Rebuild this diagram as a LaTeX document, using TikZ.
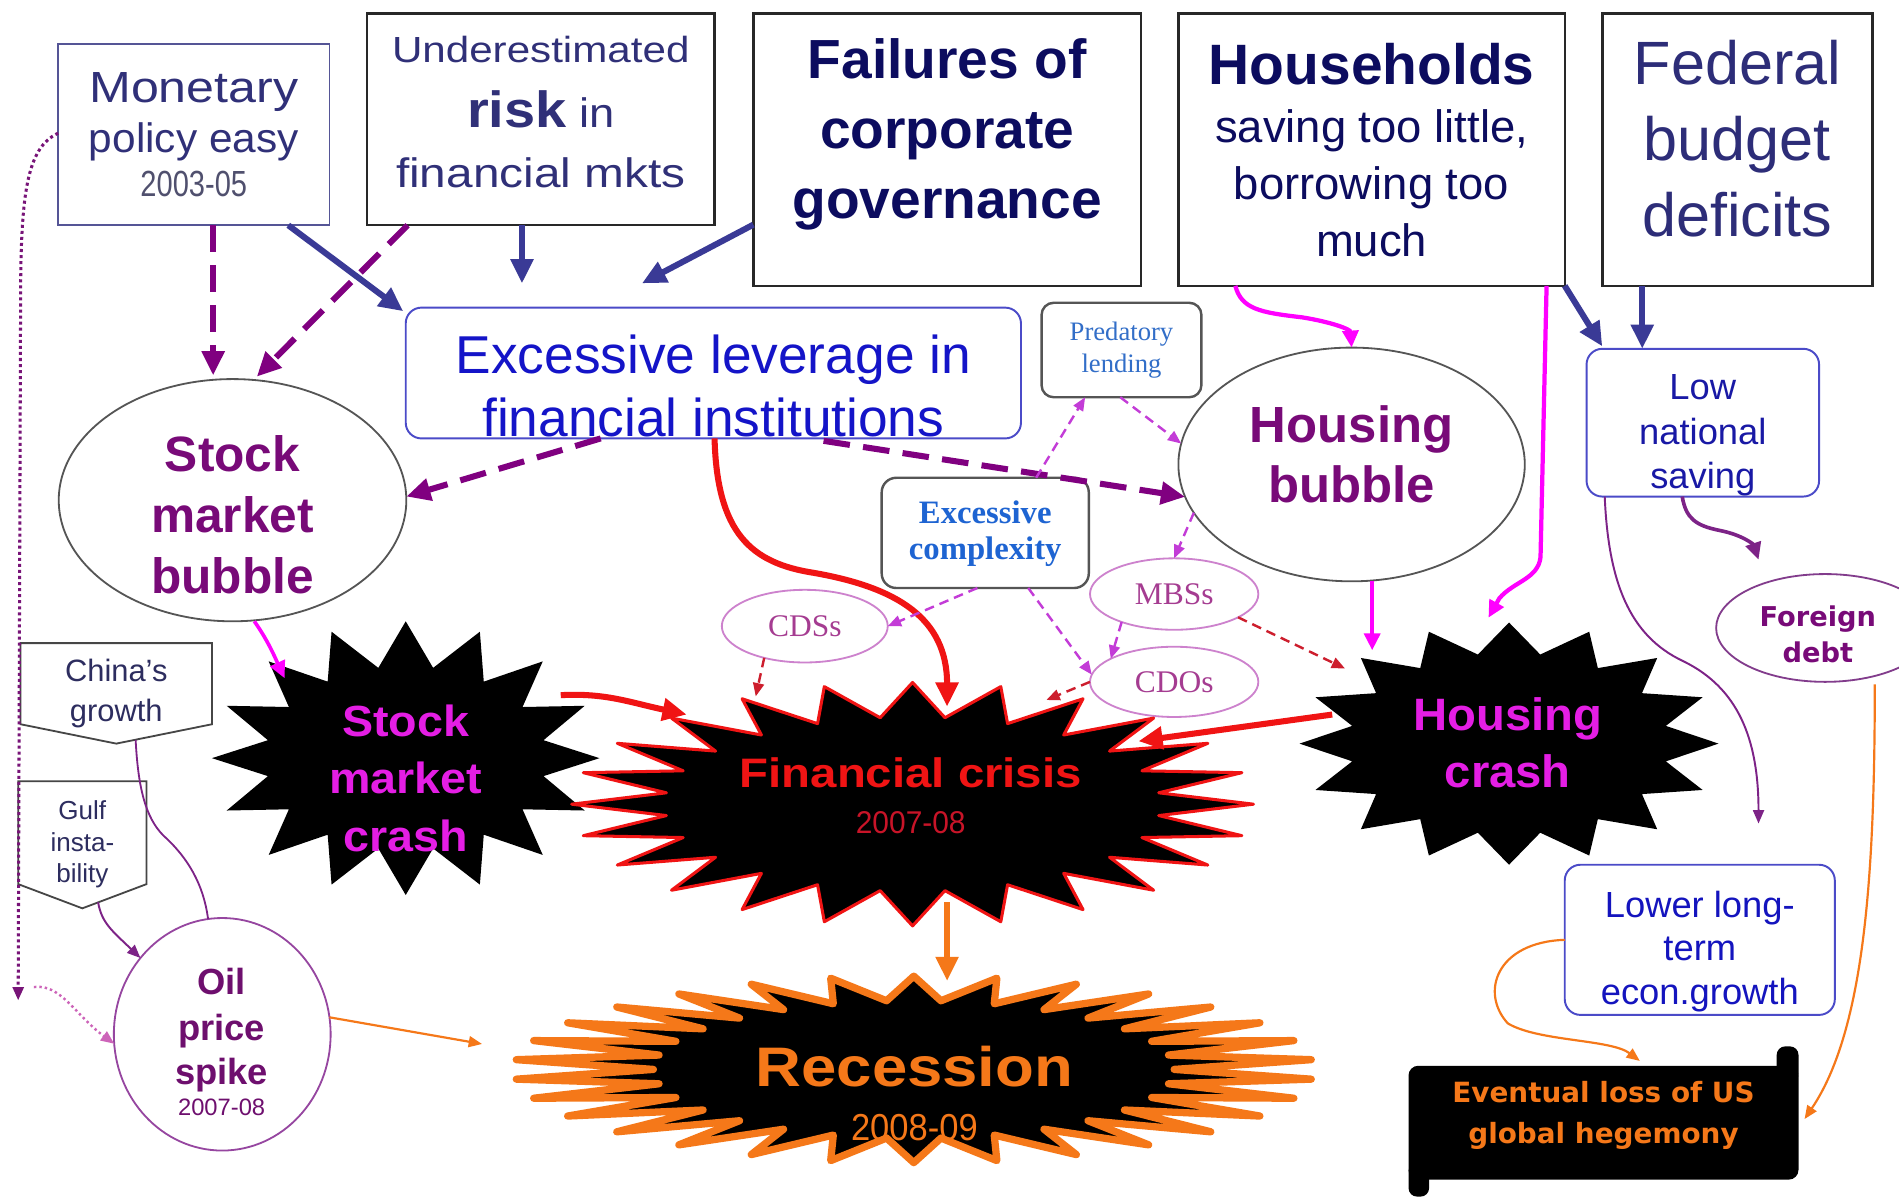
\documentclass[tikz,border=0pt]{standalone}
\usepackage{fontspec}
\setmainfont{Liberation Sans}
\newfontfamily\dejavu{DejaVu Sans}
\newfontfamily\tnr{Liberation Serif}
\usepackage{graphicx}
\usetikzlibrary{arrows.meta,shapes.geometric}

\definecolor{monT}{RGB}{48,48,120}
\definecolor{yearT}{RGB}{80,80,110}
\definecolor{darkT}{RGB}{12,12,95}
\definecolor{fedT}{RGB}{45,45,120}
\definecolor{blueT}{RGB}{20,20,200}
\definecolor{predT}{RGB}{50,110,200}
\definecolor{cplxT}{RGB}{30,100,210}
\definecolor{bubT}{RGB}{120,10,120}
\definecolor{lnsT}{RGB}{25,25,165}
\definecolor{crashT}{RGB}{228,30,228}
\definecolor{redA}{RGB}{240,20,20}
\definecolor{yrRed}{RGB}{200,20,40}
\definecolor{orA}{RGB}{245,120,25}
\definecolor{oilT}{RGB}{110,15,110}
\definecolor{llgT}{RGB}{20,20,190}
\definecolor{chinaT}{RGB}{45,45,95}
\definecolor{chinaB}{RGB}{70,70,70}
\definecolor{boxA}{RGB}{85,85,150}
\definecolor{boxK}{RGB}{40,40,40}
\definecolor{blueB}{RGB}{75,75,200}
\definecolor{grayB}{RGB}{85,85,85}
\definecolor{ellGray}{RGB}{85,85,85}
\definecolor{oilB}{RGB}{150,70,160}
\definecolor{fdB}{RGB}{130,60,140}
\definecolor{ellB}{RGB}{205,130,205}
\definecolor{ellT}{RGB}{165,60,145}
\definecolor{arrN}{RGB}{58,58,150}
\definecolor{purp}{RGB}{128,0,128}
\definecolor{mag}{RGB}{255,0,255}
\definecolor{viol}{RGB}{195,60,215}
\definecolor{redD}{RGB}{205,30,45}
\definecolor{plum}{RGB}{125,35,135}
\definecolor{dotP}{RGB}{120,20,120}
\definecolor{dotPink}{RGB}{205,100,185}

\newcommand\hs[2]{\scalebox{#1}[1]{#2}}
% starburst: center node, outer rx, outer ry, inner rx, inner ry, n points, 2n-1, style
\newcommand\burst[8]{%
  \path[#8] (#1.center) +(0,-#3)
   \foreach \k [evaluate=\k as \ang using {90+\k*180/#6},
                evaluate=\k as \rxx using {#2+(#4-#2)*mod(\k,2)},
                evaluate=\k as \ryy using {#3+(#5-#3)*mod(\k,2)}] in {1,...,#7}
   { -- +({\rxx*cos(\ang)},{-\ryy*sin(\ang)}) } -- cycle;}

\tikzset{
  tx/.style={inner sep=0pt, outer sep=0pt, align=center},
  sqbox/.style={draw=#1, line width=2pt, fill=white, inner sep=0pt, outer sep=0pt},
  rbox/.style={draw=#1, line width=1.6pt, fill=white, rounded corners=13pt, inner sep=0pt, outer sep=0pt},
  ell/.style={ellipse, draw=#1, line width=1.5pt, fill=white, inner sep=0pt, outer sep=0pt},
  ghost/.style={ellipse, inner sep=0pt, outer sep=0pt},
  bigtip/.style={-{Triangle[length=20pt,width=18pt]}},
  midtip/.style={-{Triangle[length=14pt,width=13pt]}},
  smalltip/.style={-{Triangle[length=11pt,width=9pt]}},
  navyarr/.style={draw=arrN, line width=5pt, bigtip},
  pdash/.style={draw=purp, line width=5pt, dash pattern=on 22pt off 11pt, bigtip},
  redarr/.style={draw=redA, line width=5pt, bigtip},
  orarr/.style={draw=orA, line width=5.5pt, bigtip},
  magarr/.style={draw=mag, line width=3.5pt, midtip},
  vdash/.style={draw=viol, line width=2pt, dash pattern=on 8pt off 5pt, smalltip},
  rdash/.style={draw=redD, line width=2pt, dash pattern=on 8pt off 5pt, smalltip},
  plumarr/.style={draw=plum, line width=1.6pt, smalltip},
  orthin/.style={draw=orA, line width=1.8pt, smalltip},
}

\begin{document}
\begin{tikzpicture}[x=1pt,y=-1pt]
\useasboundingbox (0,0) rectangle (1568,988);
\fill[white] (0,0) rectangle (1568,988);

% ---------- boxes ----------
\node[sqbox=boxA, line width=1.5pt, minimum width=224pt, minimum height=150pt] (mon) at (160,111) {};
\node[sqbox=boxK, minimum width=287pt, minimum height=175pt] (und) at (446.5,98.5) {};
\node[sqbox=boxK, minimum width=320pt, minimum height=225pt] (fail) at (782,123.5) {};
\node[sqbox=boxK, minimum width=319pt, minimum height=225pt] (hh) at (1132.5,123.5) {};
\node[sqbox=boxK, minimum width=223pt, minimum height=225pt] (fed) at (1434.5,123.5) {};
\node[rbox=blueB, minimum width=508pt, minimum height=108pt] (lev) at (589,308) {};
\node[rbox=grayB, line width=2pt, rounded corners=10pt, minimum width=132pt, minimum height=78pt] (pred) at (926,289) {};
\node[rbox=grayB, line width=2pt, rounded corners=12pt, minimum width=171pt, minimum height=91pt] (cplx) at (813.5,440) {};
\node[rbox=blueB, minimum width=192pt, minimum height=122pt] (lns) at (1406,349) {};
\node[rbox=blueB, minimum width=223pt, minimum height=124pt] (llg) at (1403.5,776) {};

% ---------- ellipses ----------
\node[ell=ellGray, minimum width=287pt, minimum height=200pt] (sbub) at (192,413) {};
\node[ell=ellGray, minimum width=286pt, minimum height=193pt] (hbub) at (1116,383.5) {};
\node[ell=oilB, minimum width=179pt, minimum height=192pt] (oil) at (183.5,854) {};
\node[ell=fdB, minimum width=180pt, minimum height=89pt] (fdebt) at (1507,518.5) {};
\node[ell=ellB, minimum width=137pt, minimum height=60pt, text=ellT, font=\tnr\fontsize{26}{26}\selectfont] (cds) at (664.5,517) {CDSs};
\node[ell=ellB, minimum width=139pt, minimum height=59pt, text=ellT, font=\tnr\fontsize{26}{26}\selectfont] (mbs) at (969.5,490.5) {MBSs};
\node[ell=ellB, minimum width=139pt, minimum height=58pt, text=ellT, font=\tnr\fontsize{26}{26}\selectfont] (cdo) at (969.5,563) {CDOs};

% ---------- off-page shapes ----------
\node[tx, minimum width=158pt, minimum height=83pt, text=chinaT, font=\fontsize{25.5}{33}\selectfont] (china) at (96,572.5) {China's\\growth};
\draw[chinaB, line width=1.5pt] (china.north west) -- (china.north east) -- ([yshift=16pt]china.south east) -- (china.south) -- ([yshift=16pt]china.south west) -- cycle;
\node[tx, minimum width=106pt, minimum height=105pt, text=chinaT, font=\fontsize{21.5}{26}\selectfont] (gulf) at (68,697.5) {Gulf\\insta-\\bility};
\draw[chinaB, line width=1.5pt] (gulf.north west) -- (gulf.north east) -- ([yshift=20pt]gulf.south east) -- (gulf.south) -- ([yshift=20pt]gulf.south west) -- cycle;

% ---------- starbursts ----------
\node[ghost, minimum width=320pt, minimum height=226pt] (smcn) at (335,626) {};
\node[ghost, minimum width=563pt, minimum height=201pt] (fcn) at (753.5,664) {};
\node[ghost, minimum width=346pt, minimum height=200pt] (hcn) at (1246,614) {};
\node[ghost, minimum width=671pt, minimum height=161pt] (recn) at (754.5,883) {};
\burst{smcn}{160}{113}{116}{76}{16}{31}{fill=black}
\burst{hcn}{173}{100}{132}{75}{16}{31}{fill=black}
\burst{fcn}{281.5}{100.5}{205}{72}{24}{47}{fill=black, draw=redA, line width=2.5pt, line join=round}
\burst{recn}{330}{77}{215}{57}{30}{59}{fill=black, draw=orA, line width=6pt, line join=round}

% ---------- scroll ----------
\node[fill=black, rounded corners=8pt, minimum width=322pt, minimum height=94pt, inner sep=0pt, outer sep=0pt] (hegebox) at (1324,927) {};
\fill[black, rounded corners=7pt] ([xshift=-18pt,yshift=16pt]hegebox.north east) rectangle ([yshift=-14pt]hegebox.north east);
\fill[black, rounded corners=7pt] ([yshift=14pt]hegebox.south west) rectangle ([xshift=17pt,yshift=-14pt]hegebox.south west);

% ---------- connectors ----------
\draw[pdash] ([xshift=16pt]mon.south) -- ([xshift=-16pt,yshift=3pt]sbub.north);
\draw[pdash] ([xshift=-110pt]und.south) -- ([xshift=20pt,yshift=2pt]sbub.north);
\draw[navyarr] ([xshift=78pt]mon.south) -- ([xshift=-2pt,yshift=-3pt]lev.north west);
\draw[navyarr, shorten >=20pt] ([xshift=-15.5pt]und.south) -- ([xshift=-158pt]lev.north);
\draw[navyarr, shorten >=43pt] ([yshift=-62pt]fail.west) -- ([xshift=-97pt]lev.north);
\draw[pdash] ([xshift=-93pt]lev.south) -- ([yshift=3pt]sbub.east);
\draw[pdash] ([xshift=91pt,yshift=-2pt]lev.south) -- (hbub.191);
\draw[redarr] ([xshift=1pt]lev.south) .. controls (592,440) and (620,465) .. (672,473) .. controls (740,485) and (782,510) .. ([xshift=28.5pt,yshift=-20pt]fcn.north);
\draw[magarr] ([xshift=-112.5pt]hh.south) .. controls (1025,255) and (1040,258) .. (1075,262) .. controls (1100,266) and (1115,272) .. (hbub.north);
\draw[magarr] ([xshift=144.5pt]hh.south) -- (1272,460) .. controls (1270,478) and (1250,480) .. (1238,494) -- ([xshift=-17pt,yshift=104pt]hcn.center);
\draw[navyarr] (hh.south east) -- ([xshift=13pt,yshift=2pt]lns.north west);
\draw[navyarr] ([xshift=-78.5pt]fed.south) -- ([xshift=-50pt]lns.north);
\draw[magarr] ([xshift=17pt]hbub.south) -- ([xshift=-113pt,yshift=77pt]hcn.center);
\draw[redarr] ([xshift=-146pt,yshift=24pt]hcn.center) -- ([xshift=186.5pt,yshift=52pt]fcn.center);
\draw[redarr] ([xshift=128pt,yshift=52pt]smcn.center) .. controls (500,572) and (520,580) .. ([xshift=-186.5pt,yshift=74pt]fcn.center);
\draw[magarr, line width=3pt] ([xshift=18pt]sbub.south) .. controls (222,530) and (228,545) .. ([xshift=-100pt,yshift=66pt]smcn.center);
\draw[orarr] ([xshift=28.5pt,yshift=-81pt]fcn.center) -- ([xshift=27.5pt,yshift=73pt]recn.center);
\draw[orthin] (oil.9) -- ([xshift=-356.5pt,yshift=21pt]recn.center);
\draw[plumarr, line width=3pt, midtip] ([xshift=-17pt]lns.south) .. controls (1392,428) and (1400,434) .. (1420,438) .. controls (1440,442) and (1448,450) .. ([xshift=-55pt,yshift=56.5pt]fdebt.center);
\draw[plumarr] ([xshift=-81pt]lns.south) .. controls (1328,480) and (1345,525) .. (1390,546) .. controls (1435,568) and (1452,610) .. ([xshift=48.5pt,yshift=96pt]llg.center);
\draw[orthin] ([xshift=41pt,yshift=-46.5pt]fdebt.center) .. controls (1548,720) and (1540,850) .. ([xshift=5pt,yshift=3pt]hegebox.east);
\draw[orthin] (llg.west) .. controls (1235,778) and (1222,820) .. (1245,845) .. controls (1270,860) and (1330,858) .. ([xshift=30pt,yshift=4pt]hegebox.north);
\coordinate (dotend) at (15,826);
\draw[dotP, line width=2.5pt, dash pattern=on 2.5pt off 2.5pt, smalltip] ([yshift=1pt]mon.west) .. controls (22,122) and (17,160) .. (17,250) -- (dotend);
\draw[dotPink, line width=2pt, dash pattern=on 2pt off 2.5pt, smalltip] ([xshift=13pt,yshift=11pt]dotend) .. controls (50,812) and (62,838) .. (oil.185);
\draw[plum, line width=1.5pt] ([xshift=16pt,yshift=3pt]china.south) .. controls (114,650) and (120,675) .. (135,690) .. controls (155,708) and (168,730) .. (oil.97);
\draw[plumarr] ([xshift=13pt,yshift=5pt]gulf.south) .. controls (84,762) and (92,768) .. (oil.137);
\draw[vdash] ([xshift=42pt]cplx.north) -- ([xshift=-30pt]pred.south);
\draw[vdash] ([xshift=-1pt]pred.south) -- (hbub.173);
\draw[vdash] (hbub.197) -- (mbs.north);
\draw[vdash] ([xshift=-6.5pt]cplx.south) -- (cds.east);
\draw[vdash] ([xshift=35.5pt]cplx.south) -- (cdo.175);
\draw[vdash] (mbs.208) -- (cdo.160);
\draw[rdash] (cds.218) -- ([xshift=-129.5pt,yshift=89pt]fcn.center);
\draw[rdash] (cdo.west) -- ([xshift=110.5pt,yshift=86pt]fcn.center);
\draw[rdash] (mbs.-20) -- ([xshift=-135.4pt,yshift=62pt]hcn.center);

% ---------- texts ----------
\node[tx, text=monT, font=\fontsize{34}{42}\selectfont] (mon-t) at (160,111) {\hs{1.15}{\fontsize{36}{36}\selectfont Monetary}\\ \hs{1.03}{policy easy}\\[-6pt] \hs{0.8}{\fontsize{30}{30}\selectfont\color{yearT}2003-05}};
\node[tx, text=monT, font=\fontsize{34}{53}\selectfont] (und-t) at (446.5,92.7) {\hs{1.16}{\fontsize{30}{30}\selectfont Underestimated}\\ \hs{1.1}{{\fontsize{42}{42}\selectfont\bfseries risk} in}\\[-3pt] \hs{1.16}{financial mkts}};
\node[tx, text=darkT, font=\fontsize{45.5}{57.5}\selectfont\bfseries] (fail-t) at (782,111) {Failures of\\corporate\\governance};
\node[tx, text=darkT, font=\fontsize{37.5}{47}\selectfont] (hh-t) at (1132.5,124.2) {{\fontsize{47}{47}\selectfont\bfseries Households}\\[1pt] saving too little,\\ borrowing too\\ much};
\node[tx, text=fedT, font=\fontsize{50.5}{62.5}\selectfont] (fed-t) at (1434.5,114.4) {Federal\\budget\\deficits};
\node[tx, text=blueT, font=\fontsize{44}{52}\selectfont] (lev-t) at (589,318.3) {Excessive leverage in\\financial institutions};
\node[tx, text=predT, font=\tnr\fontsize{22}{26}\selectfont] (pred-t) at (926,289) {Predatory\\lending};
\node[tx, text=cplxT, font=\tnr\bfseries\fontsize{27}{30}\selectfont] (cplx-t) at (813.5,440.7) {Excessive\\complexity};
\node[tx, text=bubT, font=\bfseries\fontsize{41}{50.5}\selectfont] (sbub-t) at (192,424.8) {Stock\\market\\bubble};
\node[tx, text=bubT, font=\bfseries\fontsize{42}{50}\selectfont] (hbub-t) at (1116,375) {Housing\\bubble};
\node[tx, text=lnsT, font=\fontsize{30}{37}\selectfont] (lns-t) at (1406,359.4) {Low\\national\\saving};
\node[tx, text=bubT, font=\dejavu\bfseries\fontsize{22.5}{30}\selectfont] (fdebt-t) at (1501,523.8) {Foreign\\debt};
\node[tx, text=crashT, font=\bfseries\fontsize{36}{47.5}\selectfont] (smc-t) at (335,642.6) {\hs{1.07}{Stock}\\ \hs{1.07}{market}\\ \hs{1.07}{crash}};
\node[tx, font=\fontsize{26}{38}\selectfont] (fc-t) at (752,656.9) {\hs{1.15}{\color{redA}\bfseries\fontsize{34}{34}\selectfont Financial crisis}\\ \hs{0.95}{\color{yrRed}2007-08}};
\node[tx, text=crashT, font=\bfseries\fontsize{37.5}{47}\selectfont] (hc-t) at (1245,613.1) {\hs{1.04}{Housing}\\ \hs{1.04}{crash}};
\node[tx, text=orA, font=\fontsize{31}{45}\selectfont] (rec-t) at (755,903) {\hs{1.14}{\bfseries\fontsize{46}{46}\selectfont Recession}\\ \hs{0.92}{2008-09}};
\node[tx, text=oilT, font=\bfseries\fontsize{30}{37}\selectfont] (oil-t) at (183,860.3) {Oil\\[1pt]price\\[-1pt]spike\\[-11pt]{\mdseries\fontsize{19.6}{19.6}\selectfont 2007-08}};
\node[tx, text=llgT, font=\fontsize{30}{36}\selectfont] (llg-t) at (1403.5,785.4) {Lower long-\\term\\econ.growth};
\node[tx, text=orA, font=\dejavu\bfseries\fontsize{23}{34}\selectfont] (hege-t) at (1324,921) {Eventual loss of US\\global hegemony};
\end{tikzpicture}
\end{document}
